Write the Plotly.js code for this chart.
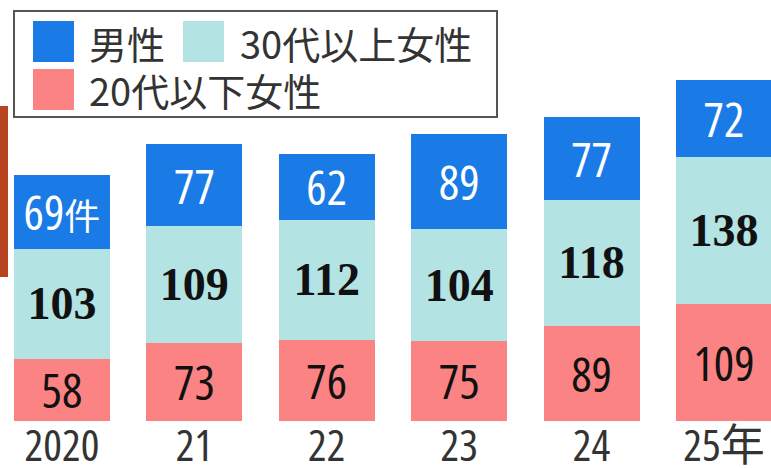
<!DOCTYPE html>
<html>
<head>
<meta charset="utf-8">
<script src="https://cdn.plot.ly/plotly-3.0.1.min.js"></script>
<style>
html,body{margin:0;padding:0;background:#fff;}
#chart{width:771px;height:468px;}
#chart text.bartext, #chart .xtick text { font-stretch: condensed; }
</style>
</head>
<body>
<div id="chart"></div>
<script>
const categories = ['2020', '21', '22', '23', '24', '25年'];
const seriesNames = ['男性', '30代以上女性', '20代以下女性'];
const men = [69, 77, 62, 89, 77, 72];
const women30plus = [103, 109, 112, 104, 118, 138];
const women20under = [58, 73, 76, 75, 89, 109];
const unitSuffix = '件';

const colors = ['#1a7ae6', '#b3e3e3', '#fb8383'];
const sansNarrow = '"Open Sans", "Noto Sans CJK JP", sans-serif';
const serifBold = '"Liberation Serif", "DejaVu Serif", serif';
const cjk = '"Noto Sans CJK JP", "Noto Sans", sans-serif';

const xIdx = categories.map((c, i) => i);

const traces = [
  {
    type: 'bar', name: seriesNames[2], x: xIdx, y: women20under,
    marker: {color: colors[2]},
    text: women20under.map(String), textposition: 'inside', insidetextanchor: 'middle',
    constraintext: 'none', textangle: 0,
    textfont: {family: sansNarrow, size: 48, color: '#111'},
    hoverinfo: 'skip'
  },
  {
    type: 'bar', name: seriesNames[1], x: xIdx, y: women30plus,
    marker: {color: colors[1]},
    text: women30plus.map(String), textposition: 'inside', insidetextanchor: 'middle',
    constraintext: 'none', textangle: 0,
    textfont: {family: serifBold, size: 46, color: '#111', weight: 'bold'},
    hoverinfo: 'skip'
  },
  {
    type: 'bar', name: seriesNames[0], x: xIdx, y: men,
    marker: {color: colors[0]},
    text: men.map((v, i) => i === 0 ? v + '<span style="font-size:36px">' + unitSuffix + '</span>' : String(v)),
    textposition: 'inside', insidetextanchor: 'middle',
    constraintext: 'none', textangle: 0,
    textfont: {family: sansNarrow, size: 48, color: '#ffffff'},
    hoverinfo: 'skip'
  }
];

const W = 771, H = 468;
const shapes = [];
const annotations = [];
function pxX(x) { return x / W; }
function pxY(y) { return (421 - y) / 421; } // plot area spans y 0..421

// decorative left strip from the source photo
shapes.push({type: 'rect', xref: 'paper', yref: 'paper', x0: pxX(0), x1: pxX(8), y0: pxY(277), y1: pxY(106),
  fillcolor: '#b8431f', line: {width: 0}, layer: 'below'});

// legend box
shapes.push({type: 'rect', xref: 'paper', yref: 'paper', x0: pxX(14), x1: pxX(497), y0: pxY(117), y1: pxY(11),
  fillcolor: '#ffffff', line: {color: '#555', width: 2}});

const legendItems = [
  {name: seriesNames[0], color: colors[0], sx: 33, sy: 21, tx: 87, ty: 42},
  {name: seriesNames[1], color: colors[1], sx: 183, sy: 21, tx: 238, ty: 42},
  {name: seriesNames[2], color: colors[2], sx: 33, sy: 69, tx: 87, ty: 89}
];
legendItems.forEach(it => {
  shapes.push({type: 'rect', xref: 'paper', yref: 'paper', x0: pxX(it.sx), x1: pxX(it.sx + 41),
    y0: pxY(it.sy + 41), y1: pxY(it.sy), fillcolor: it.color, line: {width: 0}});
  annotations.push({xref: 'paper', yref: 'paper', x: pxX(it.tx), y: pxY(it.ty), xanchor: 'left', yanchor: 'middle',
    text: it.name, showarrow: false, font: {family: cjk, size: 38, color: '#333'}});
});

const layout = {
  width: W, height: H,
  margin: {l: 0, r: 0, t: 0, b: 47, pad: 0},
  paper_bgcolor: '#ffffff', plot_bgcolor: '#ffffff',
  barmode: 'stack', bargap: 0.275,
  showlegend: false,
  xaxis: {
    range: [-0.468, 5.355], tickmode: 'array', tickvals: xIdx, ticktext: categories,
    tickfont: {family: sansNarrow, size: 44, color: '#333'},
    ticklabeloverflow: 'allow', ticklabelstandoff: -5,
    showgrid: false, zeroline: false, showline: false, ticks: '', fixedrange: true
  },
  yaxis: {
    range: [0, 393.5], showgrid: false, zeroline: false, showline: false,
    showticklabels: false, ticks: '', fixedrange: true
  },
  shapes: shapes,
  annotations: annotations
};

Plotly.newPlot('chart', traces, layout, {displayModeBar: false, staticPlot: true});
</script>
</body>
</html>
